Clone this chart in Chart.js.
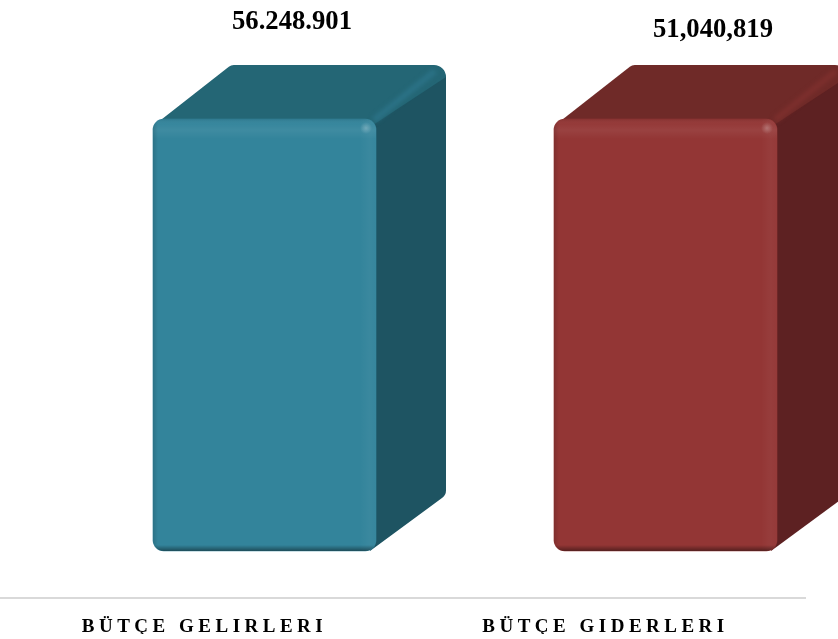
<!DOCTYPE html>
<html>
<head>
<meta charset="utf-8">
<title>Bütçe</title>
<script src="https://cdn.jsdelivr.net/npm/chart.js@4/dist/chart.umd.min.js"></script>
<style>
    html, body { margin: 0; background: #fff; overflow: hidden; }
    #wrap { width: 838px; height: 639px; overflow: hidden; }
</style>
</head>
<body>
<div id="wrap"><canvas id="budgetChart" width="900" height="639"></canvas></div>
<script>
const categories = ['BÜTÇE GELIRLERI', 'BÜTÇE GIDERLERI'];
const valueLabels = ['56.248.901', '51,040,819'];
// Both boxes are drawn at the same height in the picture, whatever the printed figure says
const barLevels = [1, 1];
const frontColors = ['#33849b', '#933635'];
const topColors = ['#246675', '#6f2a28'];
const sideColors = ['#1e5462', '#5d2122'];
const ridgeColors = ['#2b7286', '#7d2f2d'];
const labelOffsetX = [27.5, 47.5];
const labelY = [22, 30];

const DEPTH_X = 70;
const DEPTH_Y = 56;
const RADIUS = 11;

// Path through [x, y, radius] points
function roundedPath(ctx, pts) {
    let last = pts[pts.length - 1];
    let first = pts[0];
    ctx.beginPath();
    ctx.moveTo((last[0] + first[0]) / 2, (last[1] + first[1]) / 2);
    pts.forEach(function (p, i) {
        let next = pts[(i + 1) % pts.length];
        ctx.arcTo(p[0], p[1], next[0], next[1], p[2]);
    });
    ctx.closePath();
}

// Outline of the top and side faces together
function silhouette(ctx, left, right, top, bottom) {
    roundedPath(ctx, [
        [left + 4, top + 4, 0],
        [left + DEPTH_X + 8, top - DEPTH_Y + 2, 8],
        [right + DEPTH_X, top - DEPTH_Y + 2, 12],
        [right + DEPTH_X, bottom - DEPTH_Y, 9],
        [right - 6, bottom, 0]
    ]);
}

// Top and side faces, behind the front of the bar
const boxFaces = {
    id: 'boxFaces',
    beforeDatasetsDraw(chart) {
        let ctx = chart.ctx;
        chart.getDatasetMeta(0).data.forEach(function (bar, i) {
            let left = bar.x - bar.width / 2;
            let right = bar.x + bar.width / 2;
            let top = bar.y;
            let bottom = bar.base;

            ctx.save();
            silhouette(ctx, left, right, top, bottom);
            ctx.clip();

            ctx.fillStyle = topColors[i];
            ctx.fillRect(left, top - DEPTH_Y, bar.width + DEPTH_X, DEPTH_Y + 20);

            ctx.fillStyle = sideColors[i];
            ctx.beginPath();
            ctx.moveTo(right - 6, top + 8);
            ctx.lineTo(right + DEPTH_X, top - DEPTH_Y + 14);
            ctx.lineTo(right + DEPTH_X, bottom);
            ctx.lineTo(right - 6, bottom);
            ctx.closePath();
            ctx.fill();

            // Soft ridge between the top and the side
            ctx.strokeStyle = ridgeColors[i];
            ctx.lineWidth = 6;
            ctx.filter = 'blur(2px)';
            ctx.beginPath();
            ctx.moveTo(right - 2, top + 1);
            ctx.lineTo(right + DEPTH_X - 11, top - DEPTH_Y + 8);
            ctx.stroke();
            ctx.restore();
        });
    },
    afterDatasetsDraw(chart) {
        let ctx = chart.ctx;
        chart.getDatasetMeta(0).data.forEach(function (bar, i) {
            let left = bar.x - bar.width / 2;
            let right = bar.x + bar.width / 2;
            let top = bar.y;
            let bottom = bar.base;

            ctx.save();
            ctx.beginPath();
            ctx.roundRect(left, top, bar.width, bottom - top, RADIUS);
            ctx.clip();

            // Bevel along the top
            let g = ctx.createLinearGradient(0, top, 0, top + 20);
            g.addColorStop(0, 'rgba(0,0,0,0.08)');
            g.addColorStop(0.25, 'rgba(255,255,255,0.02)');
            g.addColorStop(0.55, 'rgba(255,255,255,0.06)');
            g.addColorStop(1, 'rgba(255,255,255,0)');
            ctx.fillStyle = g;
            ctx.fillRect(left, top, bar.width, 20);

            // Bevel along the right
            g = ctx.createLinearGradient(right - 16, 0, right, 0);
            g.addColorStop(0, 'rgba(255,255,255,0)');
            g.addColorStop(0.6, 'rgba(255,255,255,0.035)');
            g.addColorStop(1, 'rgba(255,255,255,0.02)');
            ctx.fillStyle = g;
            ctx.fillRect(right - 16, top, 16, bottom - top);

            // Dark rim on the left
            g = ctx.createLinearGradient(left, 0, left + 5, 0);
            g.addColorStop(0, 'rgba(0,0,0,0.13)');
            g.addColorStop(1, 'rgba(0,0,0,0)');
            ctx.fillStyle = g;
            ctx.fillRect(left, top, 5, bottom - top);

            // Dark rim at the bottom
            g = ctx.createLinearGradient(0, bottom - 6, 0, bottom);
            g.addColorStop(0, 'rgba(0,0,0,0)');
            g.addColorStop(1, 'rgba(0,0,0,0.42)');
            ctx.fillStyle = g;
            ctx.fillRect(left, bottom - 6, bar.width, 6);

            // Shine on the corner
            g = ctx.createRadialGradient(right - 10, top + 9, 0, right - 10, top + 9, 6);
            g.addColorStop(0, 'rgba(255,255,255,0.25)');
            g.addColorStop(1, 'rgba(255,255,255,0)');
            ctx.fillStyle = g;
            ctx.fillRect(right - 18, top, 18, 18);
            ctx.restore();

            // Printed figures
            ctx.save();
            ctx.letterSpacing = '0px';
            ctx.font = 'bold 26.67px "Liberation Serif"';
            ctx.fillStyle = '#000';
            ctx.textAlign = 'center';
            ctx.textBaseline = 'middle';
            ctx.fillText(valueLabels[i], bar.x + labelOffsetX[i], labelY[i]);
            ctx.restore();
        });
    }
};

// Grey baseline and spaced out tick text
const baseline = {
    id: 'baseline',
    beforeDraw(chart) {
        let ctx = chart.ctx;
        ctx.letterSpacing = '4.5px';
        ctx.save();
        ctx.strokeStyle = '#d9d9d9';
        ctx.lineWidth = 2;
        ctx.beginPath();
        ctx.moveTo(0, chart.chartArea.bottom + 47);
        ctx.lineTo(chart.chartArea.right - 60, chart.chartArea.bottom + 47);
        ctx.stroke();
        ctx.restore();
    }
};

new Chart(document.getElementById('budgetChart'), {
    type: 'bar',
    data: {
        labels: categories,
        datasets: [{
            data: barLevels,
            backgroundColor: frontColors,
            borderRadius: RADIUS,
            borderSkipped: false,
            barThickness: 223,
            clip: false
        }]
    },
    options: {
        responsive: false,
        animation: false,
        layout: { padding: { left: 64, right: 34, top: 119, bottom: 5 } },
        plugins: {
            legend: { display: false },
            title: { display: false },
            tooltip: { enabled: false }
        },
        scales: {
            y: { display: false, min: 0, max: 1 },
            x: {
                afterFit: function (scale) {
                    scale.height = 83;
                },
                grid: { display: false },
                border: { display: false },
                ticks: {
                    color: '#000',
                    padding: 57,
                    labelOffset: -60,
                    maxRotation: 0,
                    autoSkip: false,
                    font: { family: '"Liberation Serif"', size: 19, weight: 'bold' }
                }
            }
        }
    },
    plugins: [baseline, boxFaces]
});
</script>
</body>
</html>
